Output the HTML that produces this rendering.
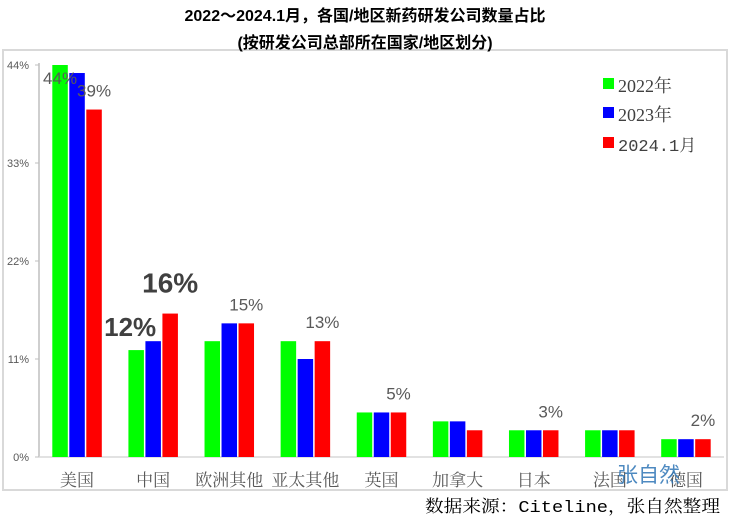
<!DOCTYPE html>
<html><head><meta charset="utf-8"><style>
body{margin:0;background:#fff;width:735px;height:517px;overflow:hidden}
svg text{font-family:"Liberation Sans","Noto Sans CJK SC",sans-serif}
.serif{font-family:"Liberation Serif","Noto Serif CJK SC",serif !important}
.mono{font-family:"Liberation Mono","Noto Serif CJK SC",monospace !important}
</style></head><body>
<svg id="chart" width="735" height="517">
<rect x="3" y="50" width="724" height="440" fill="none" stroke="#d9d9d9" stroke-width="2"/>
<text x="365" y="21" text-anchor="middle" font-size="16" font-weight="bold" fill="#000">2022～2024.1月，各国/地区新药研发公司数量占比</text>
<text x="365" y="48" text-anchor="middle" font-size="16" font-weight="bold" fill="#000">(按研发公司总部所在国家/地区划分)</text>
<g id="axes"></g><g id="bars"></g><g id="labels"></g>
<g>
<rect x="603" y="78" width="11" height="11" fill="#00ff00"/>
<text class="serif" x="618" y="92" font-size="18" fill="#404040">2022年</text>
<rect x="603" y="107" width="11" height="11" fill="#0000ff"/>
<text class="serif" x="618" y="121" font-size="18" fill="#404040">2023年</text>
<rect x="603" y="137" width="11" height="11" fill="#ff0000"/>
<text class="mono" x="618" y="151" font-size="17" fill="#404040">2024.1月</text>
</g>
<text x="617" y="482" font-size="21" fill="#2e75b6" opacity="0.85">张自然</text>
<text class="mono" x="425" y="512" font-size="17" fill="#000" textLength="295" lengthAdjust="spacingAndGlyphs">数据来源：Citeline，张自然整理</text>
</svg>
<script>
const categories=["美国","中国","欧洲其他","亚太其他","英国","加拿大","日本","法国","德国"];
const s2022=[44,12,13,13,5,4,3,3,2];
const s2023=[43.1,13,15,11,5,4,3,3,2];
const s2024=[39,16.1,15,13,5,3,3,3,2];
const yTicks=[0,11,22,33,44];
const yTickLabels=["0%","11%","22%","33%","44%"];
const pointLabels=["39%","16%","15%","13%","5%","","3%","","2%"];
const NS="http://www.w3.org/2000/svg";
const x0=39,x1=724,y0=457,yTop=65,yMax=44;
const y=v=>y0-(v/yMax)*(y0-yTop);
const band=(x1-x0)/categories.length;
const xc=i=>x0+band*(i+0.5);
function mk(tag,attrs,parent,txt){const e=document.createElementNS(NS,tag);for(const k in attrs)e.setAttribute(k,attrs[k]);if(txt!==undefined)e.textContent=txt;parent.appendChild(e);return e;}
const axes=document.getElementById('axes'),bars=document.getElementById('bars'),labels=document.getElementById('labels');
let l=mk('line',{x1:x0,y1:yTop-2,x2:x0,y2:y0,stroke:'#bfbfbf','stroke-width':1.5},axes);


l=mk('line',{x1:x0,y1:y0,x2:x1,y2:y0,stroke:'#d9d9d9','stroke-width':1.5},axes);


yTicks.forEach((t,i)=>{
 const tk=mk('line',{x1:x0-4,y1:y(t),x2:x0,y2:y(t),stroke:'#bfbfbf'},axes);
 
 
 const tx=mk('text',{x:x0-10,y:y(t)+4,'text-anchor':'end','font-size':11,fill:'#595959'},axes,yTickLabels[i]);
 
 
});
const series=[[s2022,'#00ff00','2022'],[s2023,'#0000ff','2023'],[s2024,'#ff0000','2024']];
const bw=15.5,gap=1.5;
categories.forEach((c,i)=>{
 series.forEach(([arr,col,nm],j)=>{
  const bx=xc(i)+(j-1)*(bw+gap)-bw/2;
  const r=mk('rect',{x:bx,y:y(arr[i]),width:bw,height:y0-y(arr[i]),fill:col},bars);
  
  
 });
 const cl=mk('text',{x:xc(i),y:486,'text-anchor':'middle','font-size':17,fill:'#595959',class:'serif'},labels,c);
 
 
 if(!pointLabels[i]) return;
 const big=(i===1);
 const lx=xc(i)+(bw+gap);
 const pl=mk('text',{x:lx,y:y(s2024[i])-(big?21:13),'text-anchor':'middle','font-size':big?28:17,'font-weight':big?'bold':'normal',fill:big?'#404040':'#595959'},labels,pointLabels[i]);
 
 
});
let t=mk('text',{x:xc(0)-(bw+gap),y:y(s2022[0])+19,'text-anchor':'middle','font-size':17,fill:'#595959'},labels,s2022[0]+"%");


t=mk('text',{x:xc(1)-(bw+gap)-6,y:y(s2022[1])-14,'text-anchor':'middle','font-size':26,'font-weight':'bold',fill:'#404040'},labels,s2022[1]+"%");


</script>
</body></html>
